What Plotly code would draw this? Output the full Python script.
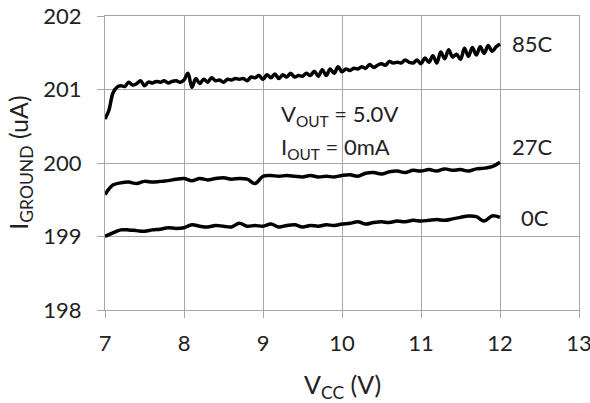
import plotly.graph_objects as go

# ---- data ----
x_85 = [round(7 + 0.05 * i, 2) for i in range(101)]
y_85 = [200.60, 200.72, 200.95, 201.03, 201.05, 201.04, 201.10, 201.06, 201.08, 201.12,
        201.05, 201.10, 201.09, 201.11, 201.10, 201.12, 201.09, 201.11, 201.12, 201.10,
        201.13, 201.22, 201.03, 201.15, 201.08, 201.14, 201.10, 201.16, 201.12, 201.13,
        201.10, 201.14, 201.13, 201.15, 201.14, 201.15, 201.12, 201.17, 201.16, 201.19,
        201.14, 201.20, 201.16, 201.21, 201.15, 201.20, 201.17, 201.22, 201.17, 201.19,
        201.18, 201.22, 201.19, 201.25, 201.18, 201.27, 201.19, 201.28, 201.22, 201.31,
        201.24, 201.28, 201.26, 201.29, 201.28, 201.31, 201.29, 201.34, 201.30, 201.33,
        201.35, 201.33, 201.38, 201.36, 201.37, 201.36, 201.40, 201.37, 201.36, 201.40,
        201.35, 201.43, 201.37, 201.46, 201.36, 201.51, 201.42, 201.54, 201.44, 201.48,
        201.41, 201.56, 201.45, 201.57, 201.47, 201.58, 201.49, 201.60, 201.52, 201.58,
        201.62]

x_low = [round(7 + 0.1 * i, 1) for i in range(51)]
y_27 = [199.57, 199.70, 199.73, 199.74, 199.72, 199.75, 199.74, 199.75, 199.76, 199.78,
        199.79, 199.76, 199.79, 199.77, 199.79, 199.80, 199.78, 199.79, 199.78, 199.72,
        199.82, 199.83, 199.82, 199.83, 199.82, 199.81, 199.83, 199.81, 199.82, 199.81,
        199.83, 199.84, 199.82, 199.86, 199.87, 199.85, 199.88, 199.89, 199.87, 199.90,
        199.89, 199.91, 199.89, 199.92, 199.90, 199.91, 199.89, 199.92, 199.93, 199.95,
        200.01]
y_0 = [199.00, 199.05, 199.09, 199.09, 199.08, 199.07, 199.09, 199.10, 199.12, 199.11,
       199.12, 199.16, 199.14, 199.13, 199.15, 199.14, 199.13, 199.18, 199.14, 199.15,
       199.14, 199.17, 199.13, 199.15, 199.16, 199.13, 199.15, 199.14, 199.16, 199.15,
       199.17, 199.18, 199.20, 199.17, 199.19, 199.20, 199.19, 199.21, 199.20, 199.22,
       199.21, 199.22, 199.23, 199.22, 199.24, 199.26, 199.28, 199.27, 199.21, 199.28,
       199.26]

x_ticks = [7, 8, 9, 10, 11, 12, 13]
y_ticks = [198, 199, 200, 201, 202]

FONT = "Lato"
TXT = "#222222"
GRID = "#a6a6a6"

fig = go.Figure()
for xs, ys in [(x_85, y_85), (x_low, y_27), (x_low, y_0)]:
    fig.add_trace(go.Scatter(x=xs, y=ys, mode="lines",
                             line=dict(color="black", width=3.5, shape="spline", smoothing=1.0),
                             showlegend=False, hoverinfo="skip"))

ax_common = dict(showgrid=True, gridcolor=GRID, gridwidth=1, zeroline=False,
                 showline=True, linecolor=GRID, linewidth=1, mirror=True,
                 ticks="outside", ticklen=7, tickcolor=GRID, tickwidth=1,
                 automargin=False, ticklabeloverflow="allow",
                 tickfont=dict(family=FONT, size=22, color=TXT))
fig.update_xaxes(range=[7, 13], tickvals=x_ticks, ticklabelstandoff=7, **ax_common)
fig.update_yaxes(range=[198, 202], tickvals=y_ticks, ticklabelstandoff=11, **ax_common)

anns = [
    dict(x=12.13, y=201.62, text="85C", xanchor="left"),
    dict(x=12.13, y=200.22, text="27C", xanchor="left"),
    dict(x=12.24, y=199.26, text="0C", xanchor="left"),
    dict(x=9.2, y=200.65, text="V<sub>OUT</sub> = 5.0V", xanchor="left"),
    dict(x=9.2, y=200.20, text="I<sub>OUT</sub> = 0mA", xanchor="left"),
]
for a in anns:
    fig.add_annotation(xref="x", yref="y", yanchor="middle", showarrow=False,
                       font=dict(family=FONT, size=22, color=TXT), **a)

fig.add_annotation(xref="paper", yref="paper", x=0.5, y=-0.26, yanchor="middle",
                   text="V<sub>CC</sub> (V)", showarrow=False,
                   font=dict(family=FONT, size=25, color=TXT))
fig.add_annotation(xref="paper", yref="paper", x=-0.18, y=0.5, xanchor="center",
                   yanchor="middle", textangle=-90,
                   text="I<sub>GROUND</sub> (uA)", showarrow=False,
                   font=dict(family=FONT, size=25, color=TXT))

fig.update_layout(width=590, height=403, margin=dict(l=105, r=11, t=16, b=93),
                  plot_bgcolor="white", paper_bgcolor="white")
fig.write_html("out.html", config={"displayModeBar": False},
               post_script="document.body.style.margin='0';document.body.style.overflow='hidden';")
